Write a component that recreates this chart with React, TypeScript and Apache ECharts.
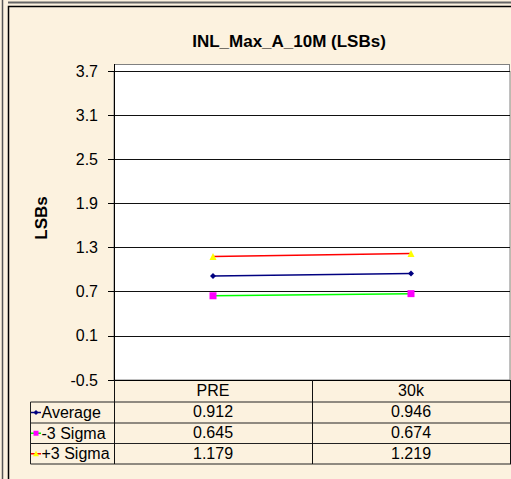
import React, { useEffect, useRef } from "react";
import * as echarts from "echarts";

const title = "INL_Max_A_10M (LSBs)";
const yAxisName = "LSBs";
const categories = ["PRE", "30k"];
const seriesNames = ["Average", "-3 Sigma", "+3 Sigma"];
const averageValues = [0.912, 0.946];
const minus3SigmaValues = [0.645, 0.674];
const plus3SigmaValues = [1.179, 1.219];
const yMin = -0.5;
const yMax = 3.7;
const yStep = 0.6;

const FONT = "'Liberation Sans', Arial, sans-serif";
const BG = "#FCF2DF";

export default function App() {
  const ref = useRef<HTMLDivElement>(null);

  useEffect(() => {
    document.body.style.margin = "0";
    if (!ref.current) return;
    const chart = echarts.init(ref.current, null, { renderer: "svg" });

    const allSeries = [averageValues, minus3SigmaValues, plus3SigmaValues];
    const styles = [
      { line: "#000080", marker: "#000080", symbol: "diamond", size: 6 },
      { line: "#00FF00", marker: "#FF00FF", symbol: "rect", size: 7 },
      { line: "#FF0000", marker: "#FFFF00", symbol: "triangle", size: 7 },
    ];

    const gridLeft = 114;
    const gridRight = 510;
    const gridTop = 71;
    const gridBottom = 380;
    const rowLines = [402, 423, 443.5, 464];
    const tableLeft = 30.5;

    const graphics: any[] = [];
    // outer frame
    graphics.push({ type: "line", shape: { x1: 2.5, y1: 0, x2: 2.5, y2: 479 }, style: { stroke: "#555", lineWidth: 1.5 } });
    graphics.push({ type: "line", shape: { x1: 8, y1: 2.5, x2: 511, y2: 2.5 }, style: { stroke: "#666", lineWidth: 2 } });
    graphics.push({ type: "rect", shape: { x: 8.5, y: 6.5, width: 520, height: 500 }, style: { fill: "none", stroke: "#000", lineWidth: 1.5 } });
    // plot extension above top tick
    graphics.push({ type: "rect", shape: { x: gridLeft, y: 64, width: gridRight - gridLeft, height: gridTop - 64 }, style: { fill: "#fff" } });
    graphics.push({ type: "line", shape: { x1: gridLeft, y1: 64.5, x2: gridRight, y2: 64.5 }, style: { stroke: "#808080", lineWidth: 1 } });
    graphics.push({ type: "line", shape: { x1: gridRight - 0.5, y1: 64, x2: gridRight - 0.5, y2: gridTop }, style: { stroke: "#808080", lineWidth: 1 } });
    graphics.push({ type: "line", shape: { x1: gridLeft + 0.5, y1: 64, x2: gridLeft + 0.5, y2: gridTop }, style: { stroke: "#000", lineWidth: 1 } });
    // title
    graphics.push({ type: "text", x: 289, y: 41, style: { text: title, fontFamily: FONT, fontSize: 17, fontWeight: "bold", fill: "#000", align: "center", verticalAlign: "middle" } });
    // y axis name
    graphics.push({ type: "text", x: 41, y: 218, rotation: Math.PI / 2, style: { text: yAxisName, fontFamily: FONT, fontSize: 17, fontWeight: "bold", fill: "#000", align: "center", verticalAlign: "middle" } });
    // table lines
    rowLines.forEach((y) => {
      graphics.push({ type: "line", shape: { x1: tableLeft, y1: y, x2: 511, y2: y }, style: { stroke: "#222", lineWidth: 1 } });
    });
    graphics.push({ type: "line", shape: { x1: tableLeft, y1: rowLines[0], x2: tableLeft, y2: rowLines[rowLines.length - 1] }, style: { stroke: "#222", lineWidth: 1 } });
    // row labels with legend keys
    seriesNames.forEach((name, i) => {
      const cy = (rowLines[i] + rowLines[i + 1]) / 2;
      const st = styles[i];
      graphics.push({ type: "line", shape: { x1: 31, y1: cy, x2: 41, y2: cy }, style: { stroke: st.line, lineWidth: 1.5 } });
      if (st.symbol === "diamond") {
        graphics.push({ type: "polygon", shape: { points: [[36, cy - 2.5], [38.5, cy], [36, cy + 2.5], [33.5, cy]] }, style: { fill: st.marker } });
      } else if (st.symbol === "rect") {
        graphics.push({ type: "rect", shape: { x: 33.5, y: cy - 2.5, width: 5, height: 5 }, style: { fill: st.marker } });
      } else {
        graphics.push({ type: "polygon", shape: { points: [[36, cy - 3], [39, cy + 2.5], [33, cy + 2.5]] }, style: { fill: st.marker } });
      }
      graphics.push({ type: "text", x: 41.5, y: cy, style: { text: name, fontFamily: FONT, fontSize: 16, fill: "#000", align: "left", verticalAlign: "middle" } });
    });

    chart.setOption({
      animation: false,
      backgroundColor: BG,
      textStyle: { fontFamily: FONT },
      grid: {
        left: gridLeft,
        top: gridTop,
        width: gridRight - gridLeft,
        height: gridBottom - gridTop,
        show: true,
        backgroundColor: "#fff",
        borderColor: "#808080",
        borderWidth: 1,
        containLabel: false,
      },
      xAxis: {
        type: "category",
        data: categories,
        boundaryGap: true,
        axisLine: { show: true, onZero: false, lineStyle: { color: "#000", width: 1 } },
        axisTick: { show: true, inside: false, length: 84, lineStyle: { color: "#111", width: 1 } },
        axisLabel: {
          margin: 0,
          fontSize: 16,
          lineHeight: 21,
          color: "#000",
          fontFamily: FONT,
          formatter: (v: string, idx: number) =>
            [v, averageValues[idx].toFixed(3), minus3SigmaValues[idx].toFixed(3), plus3SigmaValues[idx].toFixed(3)].join("\n"),
        },
        splitLine: { show: false },
      },
      yAxis: {
        type: "value",
        min: yMin,
        max: yMax,
        interval: yStep,
        axisLine: { show: true, lineStyle: { color: "#000", width: 1 } },
        axisTick: { show: true, inside: false, length: 6, lineStyle: { color: "#000" } },
        axisLabel: { margin: 16, fontSize: 16, color: "#000", fontFamily: FONT, formatter: (v: number) => v.toFixed(1) },
        splitLine: { show: true, showMinLine: false, lineStyle: { color: "#111", width: 1 } },
      },
      series: allSeries.map((data, i) => ({
        name: seriesNames[i],
        type: "line",
        data,
        symbol: styles[i].symbol,
        symbolSize: styles[i].size,
        showSymbol: true,
        lineStyle: { color: styles[i].line, width: 1.5 },
        itemStyle: { color: styles[i].marker },
        z: 3,
      })),
      graphic: graphics,
    });

    return () => chart.dispose();
  }, []);

  return <div ref={ref} style={{ width: 511, height: 479 }} />;
}
